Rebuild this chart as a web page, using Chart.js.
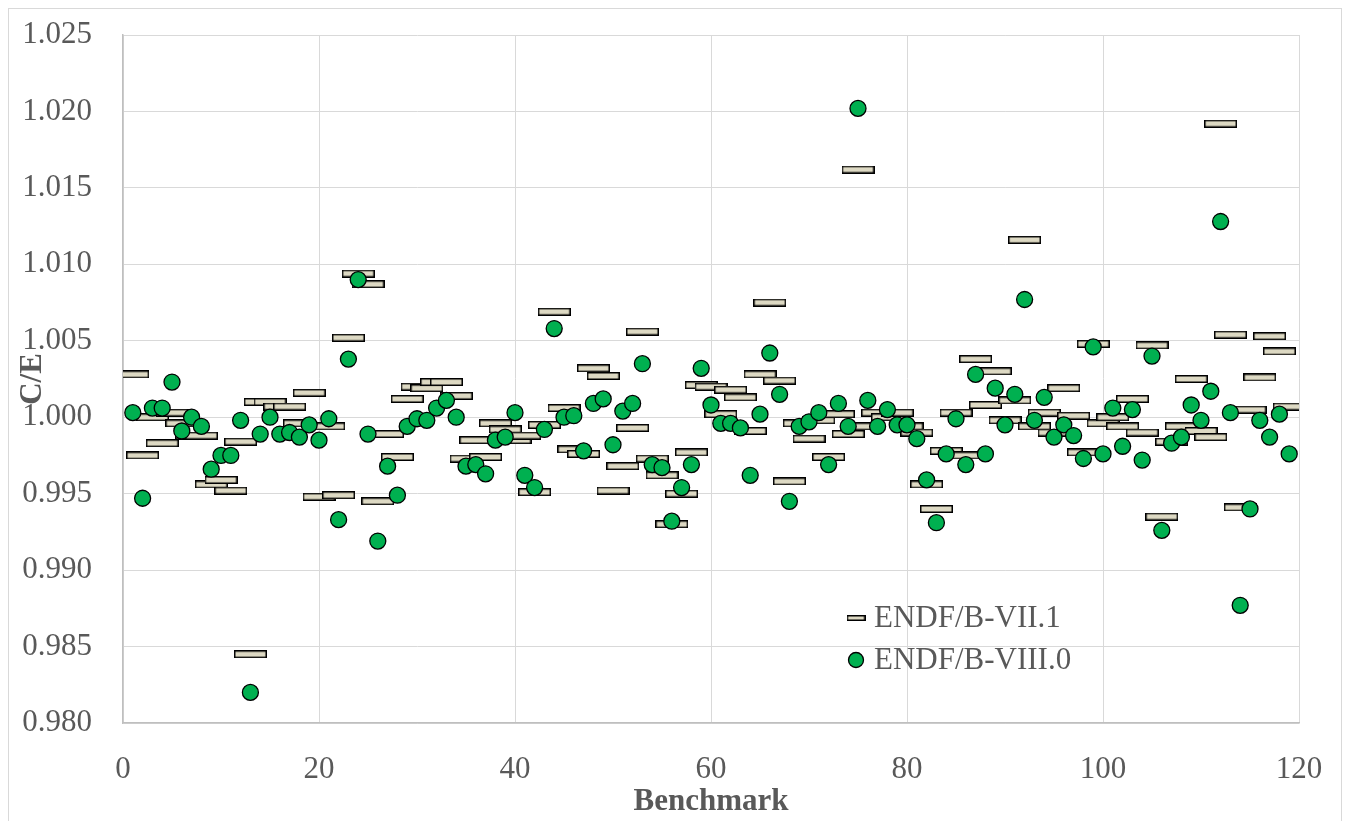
<!DOCTYPE html>
<html>
<head>
<meta charset="utf-8">
<script src="https://cdn.jsdelivr.net/npm/chart.js@4.4.1/dist/chart.umd.min.js"></script>
<style>
  html, body { margin: 0; padding: 0; background: #fff; }
  #wrap { position: relative; width: 1346px; height: 821px; }
</style>
</head>
<body>
<div id="wrap"><canvas id="ceChart" width="1346" height="821"></canvas></div>
<script>
// benchmark index (x)
const benchmark = [
  1, 2, 3, 4, 5, 6, 7, 8, 9, 10, 11, 12, 13, 14, 15, 16, 17, 18, 19, 20,
  21, 22, 23, 24, 25, 26, 27, 28, 29, 30, 31, 32, 33, 34, 35, 36, 37, 38, 39, 40,
  41, 42, 43, 44, 45, 46, 47, 48, 49, 50, 51, 52, 53, 54, 55, 56, 57, 58, 59, 60,
  61, 62, 63, 64, 65, 66, 67, 68, 69, 70, 71, 72, 73, 74, 75, 76, 77, 78, 79, 80,
  81, 82, 83, 84, 85, 86, 87, 88, 89, 90, 91, 92, 93, 94, 95, 96, 97, 98, 99, 100,
  101, 102, 103, 104, 105, 106, 107, 108, 109, 110, 111, 112, 113, 114, 115, 116, 117, 118, 119
];

// C/E with ENDF/B-VII.1
const ceVII1 = [
  1.0028, 0.9975, 1.0000, 0.9983, 1.0003, 0.9996, 0.9988, 0.9988, 0.9956, 0.9959,
  0.9952, 0.9984, 0.9845, 1.0010, 1.0010, 1.0007, 1.0007, 0.9996, 1.0016, 0.9948,
  0.9994, 0.9949, 1.0052, 1.0094, 1.0087, 0.9945, 0.9989, 0.9974, 1.0012, 1.0020,
  1.0019, 1.0023, 1.0023, 1.0014, 0.9973, 0.9985, 0.9974, 0.9996, 0.9992, 0.9985,
  0.9988, 0.9951, 0.9995, 1.0069, 1.0006, 0.9979, 0.9976, 1.0032, 1.0027, 0.9952,
  0.9968, 0.9993, 1.0056, 0.9973, 0.9962, 0.9930, 0.9950, 0.9977, 1.0021, 1.0020,
  1.0002, 1.0018, 1.0013, 0.9991, 1.0028, 1.0075, 1.0024, 0.9958, 0.9996, 0.9986,
  0.9998, 0.9974, 1.0002, 0.9989, 1.0162, 0.9994, 1.0003, 1.0000, 1.0003, 0.9994,
  0.9990, 0.9956, 0.9940, 0.9978, 1.0003, 0.9975, 1.0038, 1.0008, 1.0030, 0.9998,
  1.0011, 1.0116, 0.9994, 1.0003, 0.9990, 1.0019, 1.0001, 0.9977, 1.0048, 0.9996,
  1.0000, 0.9994, 1.0012, 0.9990, 1.0047, 0.9935, 0.9984, 0.9994, 1.0025, 0.9991,
  0.9987, 1.0192, 1.0054, 0.9941, 1.0005, 1.0026, 1.0053, 1.0043, 1.0007
];

// C/E with ENDF/B-VIII.0
const ceVIII0 = [
  1.0003, 0.9947, 1.0006, 1.0006, 1.0023, 0.9991, 1.0000, 0.9994, 0.9966, 0.9975,
  0.9975, 0.9998, 0.9820, 0.9989, 1.0000, 0.9989, 0.9990, 0.9987, 0.9995, 0.9985,
  0.9999, 0.9933, 1.0038, 1.0090, 0.9989, 0.9919, 0.9968, 0.9949, 0.9994, 0.9999,
  0.9998, 1.0006, 1.0011, 1.0000, 0.9968, 0.9969, 0.9963, 0.9985, 0.9987, 1.0003,
  0.9962, 0.9954, 0.9992, 1.0058, 1.0000, 1.0001, 0.9978, 1.0009, 1.0012, 0.9982,
  1.0004, 1.0009, 1.0035, 0.9969, 0.9967, 0.9932, 0.9954, 0.9969, 1.0032, 1.0008,
  0.9996, 0.9996, 0.9993, 0.9962, 1.0002, 1.0042, 1.0015, 0.9945, 0.9994, 0.9997,
  1.0003, 0.9969, 1.0009, 0.9994, 1.0202, 1.0011, 0.9994, 1.0005, 0.9995, 0.9995,
  0.9986, 0.9959, 0.9931, 0.9976, 0.9999, 0.9969, 1.0028, 0.9976, 1.0019, 0.9995,
  1.0015, 1.0077, 0.9998, 1.0013, 0.9987, 0.9995, 0.9988, 0.9973, 1.0046, 0.9976,
  1.0006, 0.9981, 1.0005, 0.9972, 1.0040, 0.9926, 0.9983, 0.9987, 1.0008, 0.9998,
  1.0017, 1.0128, 1.0003, 0.9877, 0.9940, 0.9998, 0.9987, 1.0002, 0.9976
];

const seriesNames = ['ENDF/B-VII.1', 'ENDF/B-VIII.0'];
const xTicks = [0, 20, 40, 60, 80, 100, 120];

const FONT = "'Liberation Serif', 'DejaVu Serif', serif";
const GREY = '#595959';

// flat dash marker used for the VII.1 series
function makeDash(w, h) {
    const c = document.createElement('canvas');
    c.width = w;
    c.height = h;
    const g = c.getContext('2d');
    g.fillStyle = '#ddd9c3';
    g.fillRect(0, 0, w, h);
    g.strokeStyle = '#000';
    g.lineWidth = 1.5;
    g.strokeRect(0.75, 0.75, w - 1.5, h - 1.5);
    return c;
}

const dashBig = makeDash(33, 8);
const dashSmall = makeDash(19, 6);

const toPoints = (vals) => vals.map((v, i) => ({ x: benchmark[i], y: v }));

// outer frame + legend inside the plot
const decorations = {
    id: 'decorations',
    beforeDraw(chart) {
        const ctx = chart.ctx;
        ctx.save();
        ctx.strokeStyle = '#d9d9d9';
        ctx.lineWidth = 1;
        ctx.strokeRect(8.5, 8.5, chart.width - 13, chart.height + 10);
        ctx.restore();
    },
    afterDatasetsDraw(chart) {
        const ctx = chart.ctx;
        const area = chart.chartArea;
        const lx = area.left + 733;
        const ly = area.top + 583;
        ctx.save();
        // VII.1 entry
        ctx.drawImage(dashSmall, lx - dashSmall.width / 2, ly - dashSmall.height / 2);
        // VIII.0 entry
        ctx.beginPath();
        ctx.arc(lx, ly + 42, 7.5, 0, Math.PI * 2);
        ctx.fillStyle = '#00b050';
        ctx.fill();
        ctx.lineWidth = 1.3;
        ctx.strokeStyle = '#000';
        ctx.stroke();
        ctx.fillStyle = GREY;
        ctx.font = '31px ' + FONT;
        ctx.textBaseline = 'middle';
        ctx.textAlign = 'left';
        ctx.fillText(seriesNames[0], lx + 18, ly + 1);
        ctx.fillText(seriesNames[1], lx + 18, ly + 43);
        ctx.restore();
    }
};

const ctxChart = document.getElementById('ceChart').getContext('2d');

new Chart(ctxChart, {
    type: 'scatter',
    data: {
        datasets: [
            {
                label: seriesNames[0],
                data: toPoints(ceVII1),
                pointStyle: dashBig,
                pointRadius: 8,
                pointHoverRadius: 8,
                order: 2
            },
            {
                label: seriesNames[1],
                data: toPoints(ceVIII0),
                pointStyle: 'circle',
                pointRadius: 8,
                pointHoverRadius: 8,
                backgroundColor: '#00b050',
                borderColor: '#000000',
                borderWidth: 1.3,
                order: 1
            }
        ]
    },
    options: {
        responsive: false,
        animation: false,
        devicePixelRatio: 1,
        layout: {
            padding: { left: 10, right: 47, top: 35, bottom: 0 }
        },
        scales: {
            x: {
                type: 'linear',
                min: 0,
                max: 120,
                afterBuildTicks: (scale) => {
                    scale.ticks = xTicks.map(v => ({ value: v }));
                },
                afterFit: (scale) => {
                    scale.height = 98;
                    scale.paddingLeft = 0;
                    scale.paddingRight = 0;
                },
                grid: { color: '#d9d9d9', lineWidth: 1, drawTicks: false },
                border: { color: '#bfbfbf', width: 1.5 },
                ticks: {
                    color: GREY,
                    padding: 28,
                    font: { family: FONT, size: 31 }
                },
                title: {
                    display: true,
                    text: 'Benchmark',
                    color: GREY,
                    padding: { top: 0, bottom: 0 },
                    font: { family: FONT, size: 31, weight: 'bold' }
                }
            },
            y: {
                min: 0.980,
                max: 1.025,
                afterFit: (scale) => {
                    scale.width = 113;
                    scale.paddingTop = 0;
                    scale.paddingBottom = 0;
                },
                grid: { color: '#d9d9d9', lineWidth: 1, drawTicks: false },
                border: { color: '#bfbfbf', width: 1.5 },
                ticks: {
                    stepSize: 0.005,
                    color: GREY,
                    padding: 31,
                    font: { family: FONT, size: 31 },
                    callback: (v) => v.toFixed(3)
                },
                title: {
                    display: true,
                    text: 'C/E',
                    color: GREY,
                    padding: { top: 4, bottom: 0 },
                    font: { family: FONT, size: 31, weight: 'bold' }
                }
            }
        },
        plugins: {
            legend: { display: false },
            tooltip: { enabled: false }
        }
    },
    plugins: [decorations]
});
</script>
</body>
</html>
